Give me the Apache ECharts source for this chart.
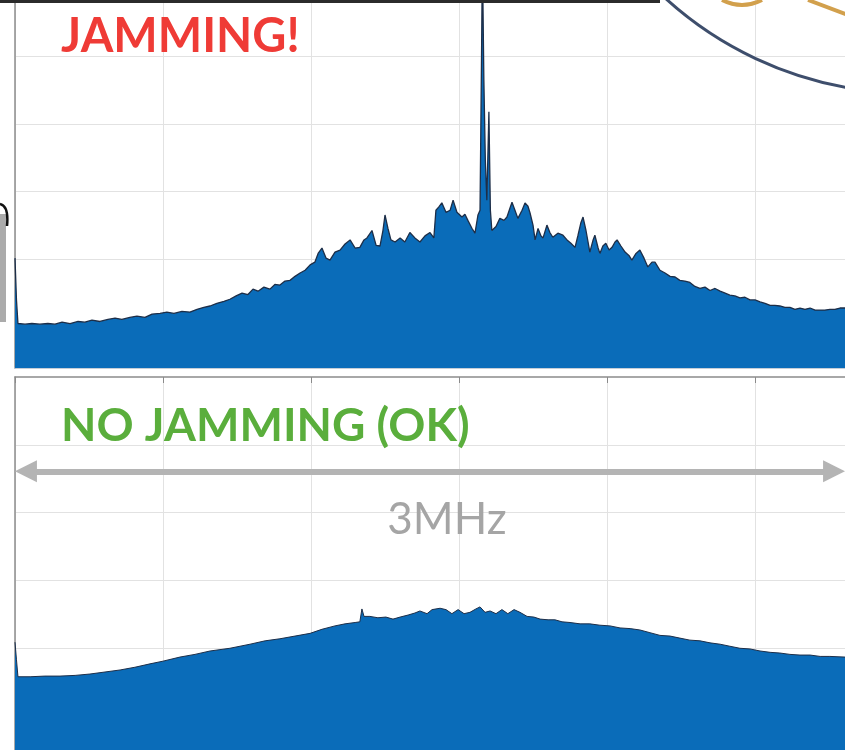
<!DOCTYPE html>
<html>
<head>
<meta charset="utf-8">
<script src="https://cdn.jsdelivr.net/npm/echarts@6.0.0/dist/echarts.min.js"></script>
<style>
html,body{margin:0;padding:0;background:#fff;}
#chart{width:845px;height:750px;}
</style>
</head>
<body>
<div id="chart"></div>
<script>
// Frequency offset (kHz) and level (dB) - jammed spectrum (top panel)
const jamFreq = [0,5,10,34,57,84,111,135,159,186,
213,236,260,287,314,338,361,388,412,439,
463,490,513,537,564,591,615,638,659,682,
706,726,747,767,787,804,821,841,861,878,
895,912,929,946,963,980,997,1013,1024,1037,
1051,1064,1081,1098,1115,1132,1149,1165,1179,1189,
1206,1220,1233,1243,1250,1260,1270,1284,1301,1317,
1334,1351,1368,1385,1402,1415,1422,1432,1442,1456,
1470,1480,1493,1510,1520,1530,1544,1554,1564,1571,
1576,1579,1584,1589,1594,1601,1606,1611,1625,1638,
1652,1662,1672,1679,1689,1699,1713,1723,1733,1740,
1750,1757,1767,1777,1784,1797,1807,1817,1834,1851,
1865,1878,1892,1902,1912,1919,1929,1942,1953,1959,
1970,1976,1986,1996,2007,2017,2027,2034,2047,2061,
2074,2084,2098,2111,2125,2138,2152,2162,2179,2196,
2213,2230,2246,2263,2280,2297,2314,2331,2348,2365,
2382,2399,2415,2432,2449,2466,2483,2500,2517,2534,
2551,2567,2584,2601,2618,2635,2652,2669,2686,2703,
2720,2736,2753,2770,2787,2804];
const jamLevel = [-89.9,-96.1,-99.6,-99.7,-99.6,-99.7,-99.6,-99.7,-99.4,-99.6,
-99.3,-99.4,-99.1,-99.3,-99.0,-98.8,-99.0,-98.7,-98.5,-98.7,
-98.2,-98.1,-97.9,-98.1,-97.8,-97.9,-97.5,-97.2,-97.0,-96.6,
-96.3,-96.0,-95.5,-95.1,-95.3,-94.5,-94.8,-94.2,-94.5,-93.8,
-93.9,-93.3,-93.2,-92.6,-92.1,-91.7,-90.9,-90.5,-89.2,-88.4,
-89.9,-90.2,-89.0,-88.7,-87.8,-87.2,-88.4,-88.3,-87.2,-86.9,
-85.8,-88.0,-88.1,-85.8,-83.5,-85.5,-87.2,-87.5,-86.9,-87.5,
-86.1,-86.9,-87.5,-86.6,-86.1,-86.9,-82.8,-82.3,-81.7,-83.1,
-82.8,-81.3,-83.1,-83.8,-83.4,-84.3,-85.5,-86.2,-83.5,-82.8,
-60.5,-45,-63.5,-75.4,-81.3,-68.2,-82.8,-85.8,-85.2,-84.0,
-84.3,-83.8,-82.5,-81.6,-82.8,-84.0,-82.8,-81.7,-82.2,-83.2,
-85.0,-87.2,-85.5,-86.6,-86.9,-85.0,-86.1,-86.8,-86.2,-86.5,
-87.2,-87.7,-88.3,-86.5,-84.6,-83.8,-85.8,-89.0,-87.2,-86.5,
-88.4,-89.2,-88.1,-87.7,-88.7,-88.3,-87.5,-87.2,-88.1,-89.0,
-89.5,-90.2,-89.2,-88.7,-89.9,-91.2,-90.5,-90.5,-91.7,-92.1,
-92.6,-92.7,-93.2,-93.3,-93.5,-94.1,-94.4,-94.2,-94.7,-94.4,
-94.8,-95.1,-95.4,-95.5,-95.8,-95.7,-96.1,-96.1,-96.4,-96.6,
-96.9,-96.9,-97.0,-97.2,-97.2,-97.5,-97.3,-97.5,-97.3,-97.6,
-97.6,-97.6,-97.5,-97.5,-97.3,-97.3];

// Clean spectrum (bottom panel)
const okFreq = [0,5,10,51,101,152,203,253,304,355,
405,456,500,557,608,659,726,794,845,895,
946,997,1037,1081,1115,1149,1165,1172,1179,1199,
1226,1253,1277,1301,1328,1351,1368,1392,1409,1436,
1456,1476,1497,1517,1537,1557,1571,1588,1605,1625,
1645,1665,1686,1706,1730,1753,1774,1801,1824,1848,
1875,1909,1942,1976,2010,2044,2078,2111,2145,2179,
2213,2246,2280,2314,2348,2382,2415,2449,2483,2517,
2551,2584,2618,2652,2686,2720,2753,2804];
const okLevel = [-89.1,-91.7,-94.2,-94.2,-94.1,-94.1,-94.0,-93.8,-93.5,-93.2,
-92.8,-92.3,-91.9,-91.3,-90.9,-90.4,-90.0,-89.4,-88.9,-88.6,
-88.2,-87.8,-87.2,-86.7,-86.4,-86.2,-86.1,-84.2,-85.3,-85.3,
-85.5,-85.4,-85.7,-85.4,-85.1,-84.8,-84.5,-84.9,-84.3,-84.1,
-84.3,-84.9,-84.3,-84.9,-84.7,-84.2,-83.9,-84.7,-84.5,-84.9,
-84.3,-84.9,-84.3,-84.7,-85.3,-85.4,-85.7,-85.8,-85.8,-86.1,
-86.2,-86.4,-86.4,-86.6,-86.7,-87.0,-87.1,-87.3,-87.7,-88.1,
-88.2,-88.5,-88.8,-88.9,-89.2,-89.4,-89.7,-90.0,-90.1,-90.4,
-90.6,-90.7,-90.9,-91.0,-91.0,-91.2,-91.2,-91.3];

// Horizontal grid levels (dB) of both panels
const jamGridLevels = [-60, -70, -80, -90, -100];
const okGridLevels = [-60, -70, -80, -90, -100];
// Visible frequency span (kHz) and grid step
const freqMin = 0, freqMax = 2804, freqStep = 500;
// Span arrow end points (kHz) and its level (dB) in the bottom panel
const spanArrow = [37, 2767];
const spanLevel = -63.9;

const titleTop = 'JAMMING!';
const titleBottom = 'NO JAMMING (OK)';
const spanText = '3MHz';

const FILL = '#0a6cb9';
const EDGE = '#1d2e48';
const GRID = '#e2e2e2';

const chart = echarts.init(document.getElementById('chart'), null, {renderer: 'canvas'});

const xAxisBase = {
  type: 'value', min: freqMin, max: freqMax, interval: freqStep,
  axisLabel: {show: false},
  axisTick: {show: true, inside: true, length: 6, lineStyle: {color: '#8a8a8a'}},
  splitLine: {show: true, lineStyle: {color: GRID, width: 1}}
};
const gridLines = levels => ({
  z: 0, silent: true, symbol: 'none', animation: false,
  label: {show: false},
  lineStyle: {color: GRID, type: 'solid', width: 1},
  data: levels.map(v => ({yAxis: v}))
});

chart.setOption({
  animation: false,
  backgroundColor: '#ffffff',
  grid: [
    {left: 15, top: 0, width: 830, height: 368},
    {left: 15, top: 377, width: 830, height: 373}
  ],
  xAxis: [
    Object.assign({}, xAxisBase, {gridIndex: 0, position: 'bottom',
      axisLine: {show: true, onZero: false, lineStyle: {color: '#b3bfcc', width: 1.5}}}),
    Object.assign({}, xAxisBase, {gridIndex: 1, position: 'top',
      axisLine: {show: true, onZero: false, lineStyle: {color: '#8c8c8c', width: 1.5}}})
  ],
  yAxis: [
    {type: 'value', gridIndex: 0, min: -106.2, max: -51.6,
      axisLabel: {show: false}, axisTick: {show: false}, splitLine: {show: false},
      axisLine: {show: true, lineStyle: {color: '#8c8c8c', width: 1.5}}},
    {type: 'value', gridIndex: 1, min: -105.0, max: -50,
      axisLabel: {show: false}, axisTick: {show: false}, splitLine: {show: false},
      axisLine: {show: true, lineStyle: {color: '#8c8c8c', width: 1.5}}}
  ],
  series: [
    {
      type: 'line', xAxisIndex: 0, yAxisIndex: 0, z: 2,
      data: jamFreq.map((f, i) => [f, jamLevel[i]]),
      symbol: 'none', smooth: false, clip: true, sampling: 'none',
      lineStyle: {color: EDGE, width: 1.3},
      areaStyle: {color: FILL, opacity: 1, origin: 'start'},
      markLine: gridLines(jamGridLevels)
    },
    {
      type: 'line', xAxisIndex: 1, yAxisIndex: 1, z: 2,
      data: okFreq.map((f, i) => [f, okLevel[i]]),
      symbol: 'none', smooth: false, clip: true, sampling: 'none',
      lineStyle: {color: EDGE, width: 1},
      areaStyle: {color: FILL, opacity: 1, origin: 'start'},
      markLine: gridLines(okGridLevels)
    },
    {
      // span annotation arrow, anchored in the bottom panel's data space
      type: 'line', xAxisIndex: 1, yAxisIndex: 1, z: 3, data: [],
      markLine: {
        z: 5, silent: true, animation: false,
        symbol: ['triangle', 'triangle'], symbolSize: [22, 22],
        label: {show: false},
        lineStyle: {color: '#b4b4b4', type: 'solid', width: 6},
        itemStyle: {color: '#b4b4b4'},
        data: [[{coord: [spanArrow[0], spanLevel]}, {coord: [spanArrow[1], spanLevel]}]]
      }
    }
  ],
  graphic: [
    {type: 'text', z: 10, style: {text: titleTop, x: 61, y: 37, font: 'bold 47px Lato',
      fill: '#ef3b36', verticalAlign: 'middle', align: 'left'}},
    {type: 'text', z: 10, style: {text: titleBottom, x: 61, y: 426, font: 'bold 46px Lato',
      fill: '#5aae3c', verticalAlign: 'middle', align: 'left'}},
    {type: 'text', z: 10, style: {text: spanText, x: 447, y: 520, font: 'normal 44px Lato',
      fill: '#a5a5a5', verticalAlign: 'middle', align: 'center'}},
    // decorations from the photo
    {type: 'rect', z: 10, shape: {x: 0, y: 0, width: 660, height: 3}, style: {fill: '#2b2b2b'}},
    {type: 'arc', z: 10, shape: {cx: 910, cy: -270, r: 363, startAngle: 1.62, endAngle: 2.4, clockwise: true},
      style: {stroke: '#3e4e6c', lineWidth: 3, fill: null}},
    {type: 'bezierCurve', z: 10, shape: {x1: 722, y1: 0, cpx1: 742, cpy1: 10, x2: 762, y2: 0},
      style: {stroke: '#d2a04c', lineWidth: 4, fill: null}},
    {type: 'line', z: 10, shape: {x1: 808, y1: 0, x2: 848, y2: 15},
      style: {stroke: '#d2a04c', lineWidth: 4}},
    {type: 'rect', z: 10, shape: {x: 0, y: 214, width: 6, height: 108}, style: {fill: '#9c9c9c', opacity: 0.85}},
    {type: 'bezierCurve', z: 10, shape: {x1: 0, y1: 204, cpx1: 9, cpy1: 206, x2: 7, y2: 226},
      style: {stroke: '#111', lineWidth: 2.5, fill: null}}
  ]
});
</script>
</body>
</html>
